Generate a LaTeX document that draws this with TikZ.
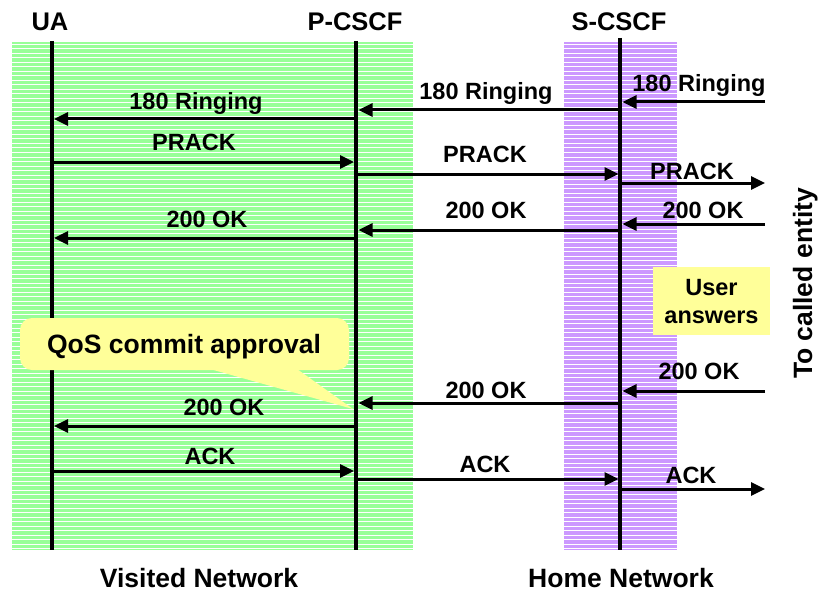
\documentclass[tikz,border=0pt]{standalone}
\usepackage{fontspec}
\setmainfont{Liberation Sans}
\usetikzlibrary{arrows.meta}
\definecolor{bandgreen}{HTML}{99FF99}
\definecolor{bandpurple}{HTML}{CC99FF}
\definecolor{noteyellow}{HTML}{FFFF99}
\begin{document}
\begin{tikzpicture}[x=1pt,y=-1pt,
  lifeline/.style={line width=3.6pt},
  msg/.style={line width=3pt,-{Triangle[length=14pt,width=13pt]}},
  lbl/.style={font=\fontsize{23.5}{28}\selectfont\bfseries, anchor=base, inner sep=0pt},
  ttl/.style={font=\fontsize{25.5}{30}\selectfont\bfseries, anchor=base, inner sep=0pt},
  big/.style={font=\fontsize{26.5}{31}\selectfont\bfseries, anchor=base, inner sep=0pt},
  stripe/.style={white, line width=1pt}]
\useasboundingbox (0,0) rectangle (819,591);
% bands
\fill[bandgreen] (12,42) rectangle (413,550);
\fill[bandpurple] (564,42) rectangle (677,550);
\foreach \y in {44.5,49,...,549}{
  \draw[stripe] (12,\y) -- (413,\y);
  \draw[stripe] (564,\y) -- (677,\y);
}
% titles
\node[ttl] (tUA) at (50,30.5) {UA};
\node[ttl] (tP) at (355,30.5) {P-CSCF};
\node[ttl] (tS) at (619,30.5) {S-CSCF};
% lifelines
\coordinate (UAtop) at (52,41);  \coordinate (UAbot) at (52,550);
\coordinate (Ptop) at (356,41);  \coordinate (Pbot) at (356,550);
\coordinate (Stop) at (620,38);  \coordinate (Sbot) at (620,550);
\draw[lifeline] (UAtop) -- (UAbot);
\draw[lifeline] (Ptop) -- (Pbot);
\draw[lifeline] (Stop) -- (Sbot);
% message end points
\coordinate (r1) at (765,102);  \coordinate (s1) at (622.5,102);
\coordinate (s2) at (620,110);  \coordinate (p2) at (358.5,110);
\coordinate (p3) at (356,119);  \coordinate (u3) at (54,119);
\coordinate (u4) at (52,162);   \coordinate (p4) at (354,162);
\coordinate (p5) at (356,174);  \coordinate (s5) at (618.5,174);
\coordinate (s6) at (620,183);  \coordinate (r6) at (765,183);
\coordinate (r7) at (765,224);  \coordinate (s7) at (622.5,224);
\coordinate (s8) at (620,230);  \coordinate (p8) at (358.5,230);
\coordinate (p9) at (356,238);  \coordinate (u9) at (54,238);
\coordinate (r10) at (765,391); \coordinate (s10) at (622.5,391);
\coordinate (s11) at (620,403); \coordinate (p11) at (358.5,403);
\coordinate (p12) at (356,426); \coordinate (u12) at (54,426);
\coordinate (u13) at (52,471);  \coordinate (p13) at (354,471);
\coordinate (p14) at (356,479); \coordinate (s14) at (618.5,479);
\coordinate (s15) at (620,489); \coordinate (r15) at (765,489);
% messages
\draw[msg] (r1) -- (s1);
\draw[msg] (s2) -- (p2);
\draw[msg] (p3) -- (u3);
\draw[msg] (u4) -- (p4);
\draw[msg] (p5) -- (s5);
\draw[msg] (s6) -- (r6);
\draw[msg] (r7) -- (s7);
\draw[msg] (s8) -- (p8);
\draw[msg] (p9) -- (u9);
\draw[msg] (r10) -- (s10);
\draw[msg] (s11) -- (p11);
\draw[msg] (p12) -- (u12);
\draw[msg] (u13) -- (p13);
\draw[msg] (p14) -- (s14);
\draw[msg] (s15) -- (r15);
% labels
\node[lbl] (l1) at (699,91.5) {180 Ringing};
\node[lbl] (l2) at (486,100) {180 Ringing};
\node[lbl] (l3) at (196,109.5) {180 Ringing};
\node[lbl] (l4) at (194,150) {PRACK};
\node[lbl] (l5) at (485,162) {PRACK};
\node[lbl] (l6) at (692,179) {PRACK};
\node[lbl] (l7) at (703,218) {200 OK};
\node[lbl] (l8) at (486,218) {200 OK};
\node[lbl] (l9) at (207,227.5) {200 OK};
\node[lbl] (l10) at (699,379) {200 OK};
\node[lbl] (l11) at (486,398) {200 OK};
\node[lbl] (l12) at (224,415) {200 OK};
\node[lbl] (l13) at (210,464) {ACK};
\node[lbl] (l14) at (485,472) {ACK};
\node[lbl] (l15) at (691,483) {ACK};
% callout
\fill[noteyellow, rounded corners=12pt] (20,318) rectangle (349,370);
\fill[noteyellow] (210,369) -- (297,369) -- (353,409) -- cycle;
\node[big] (qos) at (184,353) {QoS commit approval};
% user answers
\fill[noteyellow] (653,267) rectangle (770,335);
\node[lbl] (ua1) at (711.5,295) {User};
\node[lbl] (ua2) at (711.5,323) {answers};
% side and bottom texts
\node[big, rotate=90] (called) at (812,283.5) {To called entity};
\node[big] (vis) at (199,587) {Visited Network};
\node[big] (home) at (621,587) {Home Network};
\end{tikzpicture}
\end{document}
